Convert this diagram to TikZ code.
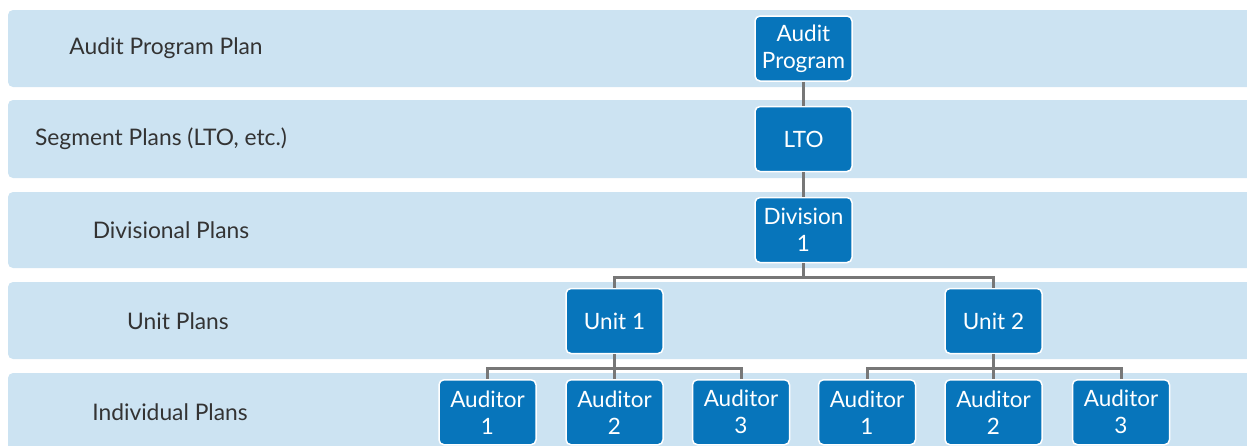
\documentclass[tikz,border=0pt]{standalone}
\usepackage{fontspec}
\setmainfont{Lato}
\definecolor{bandfill}{HTML}{CCE3F2}
\definecolor{boxfill}{HTML}{0775BB}
\definecolor{linkgray}{HTML}{777777}
\definecolor{labeltext}{HTML}{333333}
\begin{document}
\begin{tikzpicture}[x=1pt,y=-1pt,
  band/.style={fill=bandfill,rounded corners=5pt},
  rowlabel/.style={text=labeltext,font=\fontsize{22.8}{26}\selectfont,anchor=center},
  orgbox/.style={fill=boxfill,draw=white,line width=1.5pt,rounded corners=5pt,
    minimum width=97pt,minimum height=65pt,inner sep=0pt,text=white,
    align=center,font=\fontsize{22.5}{27}\selectfont},
  link/.style={draw=linkgray,line width=3pt}]
\useasboundingbox (0,0) rectangle (1247,445);
\clip (0,0) rectangle (1247,445);
% level bands
\fill[band] (8,10) rectangle (1262,87);
\fill[band] (8,100) rectangle (1262,178);
\fill[band] (8,192) rectangle (1262,268);
\fill[band] (8,282) rectangle (1262,359);
\fill[band] (8,373) rectangle (1262,460);
% level labels
\node[rowlabel] (l1) at (166,48) {Audit Program Plan};
\node[rowlabel] (l2) at (161,139) {Segment Plans (LTO, etc.)};
\node[rowlabel] (l3) at (171,230) {Divisional Plans};
\node[rowlabel] (l4) at (178,321) {Unit Plans};
\node[rowlabel] (l5) at (170,412) {Individual Plans};
% organisation boxes
\node[orgbox] (ap) at (803.5,48.5) {Audit\\Program};
\node[orgbox] (lto) at (803.5,139) {LTO};
\node[orgbox] (div) at (803.5,230) {Division\\1};
\node[orgbox] (u1) at (614.5,321) {Unit 1};
\node[orgbox] (u2) at (993.5,321) {Unit 2};
\node[orgbox,anchor=north] (a11) at (487.5,379) {Auditor\\1};
\node[orgbox,anchor=north] (a12) at (614.5,379) {Auditor\\2};
\node[orgbox,anchor=north] (a13) at (741,379) {Auditor\\3};
\node[orgbox,anchor=north] (a21) at (867,379) {Auditor\\1};
\node[orgbox,anchor=north] (a22) at (993.5,379) {Auditor\\2};
\node[orgbox,anchor=north] (a23) at (1121,379) {Auditor\\3};
% connectors
\draw[link] (ap.south) -- (lto.north);
\draw[link] (lto.south) -- (div.north);
\draw[link] (div.south) -- ++(0,14) coordinate (dj) -| (u1.north);
\draw[link] (dj) -| (u2.north);
\draw[link] (u1.south) -- ++(0,14) coordinate (j1) -| (a11.north);
\draw[link] (j1) -- (a12.north);
\draw[link] (j1) -| (a13.north);
\draw[link] (u2.south) -- ++(0,14) coordinate (j2) -| (a21.north);
\draw[link] (j2) -- (a22.north);
\draw[link] (j2) -| (a23.north);
\end{tikzpicture}
\end{document}
